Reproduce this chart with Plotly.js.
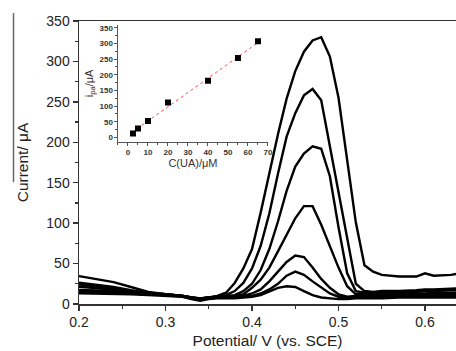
<!DOCTYPE html>
<html>
<head>
<meta charset="utf-8">
<script src="https://cdn.plot.ly/plotly-3.0.1.min.js"></script>
<style>html,body{margin:0;padding:0;background:#fff;}#chart{width:456px;height:351px;}</style>
</head>
<body>
<div id="chart"></div>
<script>
// Potential grid (V vs. SCE)
const potential = [0.20,0.22,0.24,0.26,0.28,0.30,0.32,0.33,0.34,0.35,0.36,0.37,0.38,0.39,0.40,0.41,0.42,0.43,0.44,0.45,0.46,0.47,0.48,0.49,0.50,0.51,0.52,0.53,0.54,0.55,0.57,0.59,0.60,0.61,0.63,0.65];

// Current (µA) for each UA concentration
const curve1 = [13.2,13,12,12,11,10,9,6,4,6,7,7,7,8,9,11,15,20,22,21,16,11,8,7,6,6,7,7,7,7,8,8,8,8,8,8];
const curve2 = [15,15,14,13,12,11,9,7,5,7,8,8,8,9,10,13,18,25,35,40,36,28,20,13,9,8,8,9,9,9,9,10,10,10,10,10];
const curve3 = [17.3,17,16,14,13,11,10,8,6,8,8,9,9,10,13,18,28,40,52,60,58,45,31,20,12,9,10,10,11,11,11,12,12,12,12,12];
const curve4 = [21.4,20,18,15,13,12,10,8,7,8,9,9,10,12,20,30,45,65,86,106,121,121,98,72,45,22,12,12,12,12,13,13,13,14,14,14];
const curve5 = [24,22,19,16,13,12,10,8,7,8,9,10,11,16,25,42,68,102,140,170,186,195,192,158,95,38,16,14,14,14,15,15,16,16,17,17];
const curve6 = [26.3,24,21,17,14,12,10,8,7,8,9,11,16,26,44,72,112,161,207,236,258,266,252,195,138,80,25,16,15,16,16,17,18,18,19,20];
const curve7 = [34.5,31,27,21,15,12,10,7,6,8,10,14,26,44,68,113,163,210,254,288,312,326,330,306,255,180,101,48,40,36,34,34,38,35,36,40];
const curves = [curve1, curve2, curve3, curve4, curve5, curve6, curve7];

// Inset: peak current vs. concentration
const concUA = [2.5,5,10,20,40,55,65];
const peakI = [13,29,53,112,181,254,307];

// Tick values
const mainXTicks = [0.2,0.3,0.4,0.5,0.6];
const mainYTicks = [0,50,100,150,200,250,300,350];
const insetXTicks = [0,10,20,30,40,50,60,70];
const insetYTicks = [0,50,100,150,200,250,300,350];

// least-squares fit for the inset
function linFit(x, y) {
  const n = x.length;
  let sx=0, sy=0, sxx=0, sxy=0;
  for (let i=0;i<n;i++){sx+=x[i];sy+=y[i];sxx+=x[i]*x[i];sxy+=x[i]*y[i];}
  const b = (n*sxy - sx*sy)/(n*sxx - sx*sx);
  const a = (sy - b*sx)/n;
  return [a,b];
}
const [fa, fb] = linFit(concUA, peakI);
const fitX = [2, 65];
const fitY = fitX.map(v => fa + fb*v);

const traces = curves.map(c => ({
  x: potential, y: c, type: 'scatter', mode: 'lines',
  line: {color: '#000', width: 2.4}, hoverinfo: 'skip', showlegend: false,
  xaxis: 'x', yaxis: 'y'
}));
traces.push({
  x: fitX, y: fitY, type: 'scatter', mode: 'lines',
  line: {color: '#ff5050', width: 1, dash: 'dot'}, showlegend: false,
  xaxis: 'x2', yaxis: 'y2'
});
traces.push({
  x: concUA, y: peakI, type: 'scatter', mode: 'markers',
  marker: {symbol: 'square', color: '#000', size: 6}, showlegend: false,
  xaxis: 'x2', yaxis: 'y2'
});

const font = 'Liberation Sans, Arial, sans-serif';
const layout = {
  width: 456, height: 351,
  margin: {l: 79, r: 0, t: 21, b: 47},
  paper_bgcolor: '#fff', plot_bgcolor: '#fff',
  font: {family: font, color: '#222'},
  xaxis: {
    range: [0.2, 0.6358], tickvals: mainXTicks, ticktext: mainXTicks.map(v => v.toFixed(1)),
    ticks: 'outside', ticklen: 5, tickwidth: 1.3, tickcolor: '#333',
    minor: {dtick: 0.05, tick0: 0.2, ticks: 'outside', ticklen: 3, tickwidth: 1.3, tickcolor: '#333', showgrid: false},
    showline: true, linecolor: '#333', linewidth: 1.5, mirror: true,
    showgrid: false, zeroline: false,
    tickfont: {size: 14, family: font, color: '#222'},
    title: {text: 'Potential/ V (vs. SCE)', font: {size: 15.5, family: font, color: '#222'}, standoff: 6}
  },
  yaxis: {
    range: [0, 350], tickvals: mainYTicks,
    ticks: 'outside', ticklen: 5, tickwidth: 1.3, tickcolor: '#333',
    minor: {dtick: 25, ticks: 'outside', ticklen: 3, tickwidth: 1.3, tickcolor: '#333', showgrid: false},
    showline: true, linecolor: '#333', linewidth: 1.5, mirror: false,
    showgrid: false, zeroline: false,
    tickfont: {size: 14, family: font, color: '#222'},
    title: {text: 'Current/ μA', font: {size: 15.5, family: font, color: '#222'}, standoff: 14}
  },
  xaxis2: {
    domain: [0.1034, 0.5013], anchor: 'y2',
    range: [-5, 70], tickvals: insetXTicks,
    ticks: 'outside', ticklen: 2.5, tickwidth: 1, tickcolor: '#555',
    minor: {dtick: 5, ticks: 'outside', ticklen: 1.5, tickwidth: 1, tickcolor: '#555', showgrid: false},
    showline: true, linecolor: '#555', linewidth: 1,
    showgrid: false, zeroline: false,
    tickfont: {size: 8, family: font, color: '#333', weight: 'bold'},
    title: {text: 'C(UA)/μM', font: {size: 11, family: font, color: '#333'}, standoff: 2}
  },
  yaxis2: {
    domain: [0.5717, 0.987], anchor: 'x2',
    range: [-15, 360], tickvals: insetYTicks,
    ticks: 'outside', ticklen: 2.5, tickwidth: 1, tickcolor: '#555',
    minor: {dtick: 25, ticks: 'outside', ticklen: 1.5, tickwidth: 1, tickcolor: '#555', showgrid: false},
    showline: true, linecolor: '#555', linewidth: 1,
    showgrid: false, zeroline: false,
    tickfont: {size: 8, family: font, color: '#333', weight: 'bold'},
    title: {text: 'i<sub>pa</sub>/μA', font: {size: 11, family: font, color: '#333'}, standoff: 3}
  },
  shapes: [{
    type: 'line', xref: 'paper', yref: 'paper',
    x0: -0.1737, x1: -0.1737, y0: 1.028, y1: 0.431,
    line: {color: '#666', width: 1.5}
  }]
};

Plotly.newPlot('chart', traces, layout, {staticPlot: true, displayModeBar: false});
</script>
</body>
</html>
